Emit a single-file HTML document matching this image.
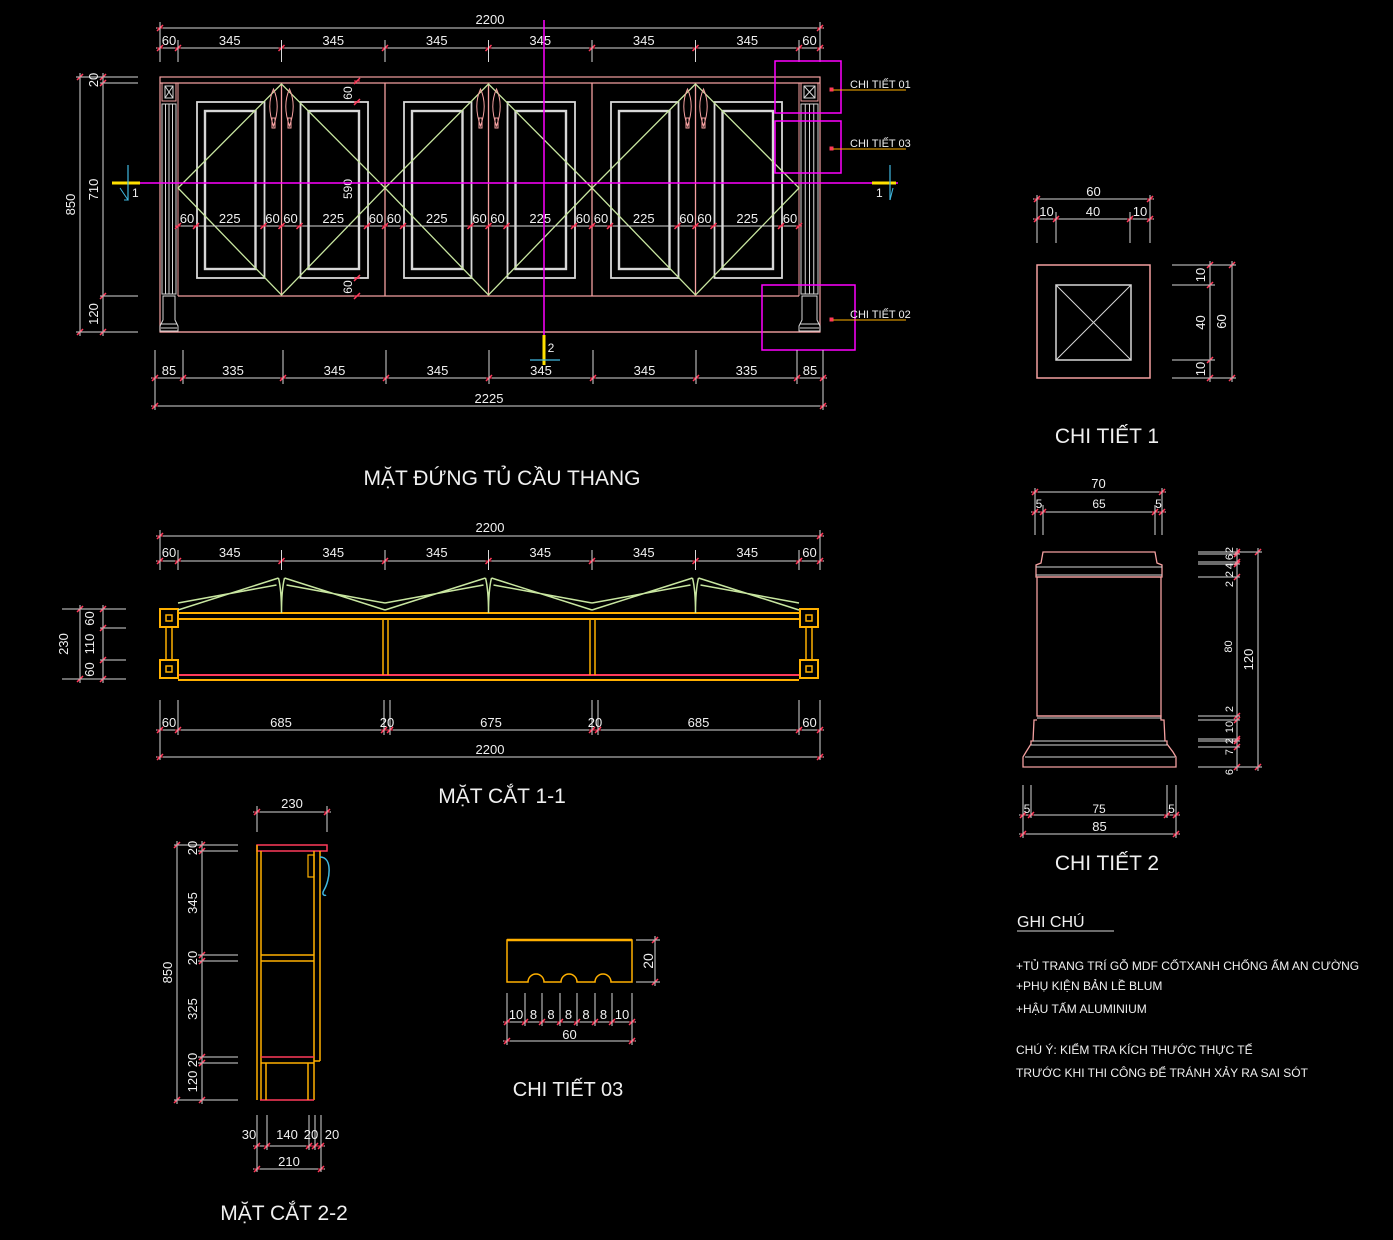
<!DOCTYPE html>
<html><head><meta charset="utf-8"><style>
html,body{margin:0;padding:0;background:#000;}
svg{display:block;}
text{font-family:"Liberation Sans",sans-serif;fill:#f0f0f0;}
</style></head><body>
<svg id="s" width="1393" height="1240" viewBox="0 0 1393 1240" xmlns="http://www.w3.org/2000/svg">
<rect width="1393" height="1240" fill="#000"/>
</svg>
<script>
var S=document.getElementById('s'),NS='http://www.w3.org/2000/svg',out='';
var W='#d8d8d8',RD='#ff3a5a',PK='#f4a0a0',OR='#ffb000',GR='#c8e6a0',MG='#ff00ff',CY='#40b8e0';
function L(a,b,c,d,col,w){out+='<line x1="'+a+'" y1="'+b+'" x2="'+c+'" y2="'+d+'" stroke="'+(col||W)+'" stroke-width="'+(w||1)+'"/>';}
function R(x,y,w,h,col,sw,f){out+='<rect x="'+x+'" y="'+y+'" width="'+w+'" height="'+h+'" fill="'+(f||'none')+'" stroke="'+(col||W)+'" stroke-width="'+(sw||1)+'"/>';}
function P(d,col,w){out+='<path d="'+d+'" fill="none" stroke="'+(col||W)+'" stroke-width="'+(w||1)+'"/>';}
function T(x,y,t,sz,anc,rot,col){out+='<text x="'+x+'" y="'+y+'" font-size="'+(sz||13)+'" text-anchor="'+(anc||'middle')+'"'+(rot?' transform="rotate('+rot+' '+x+' '+y+')"':'')+(col?' style="fill:'+col+'"':'')+'>'+t+'</text>';}
function tk(x,y){L(x-3,y+3,x+3,y-3,RD,1.5);L(x-3,y,x+3,y,RD,1);}
function hdim(xs,y,labels,ty,e1,e2,sz){L(xs[0]-4,y,xs[xs.length-1]+4,y);for(var i=0;i<xs.length;i++){tk(xs[i],y);if(e1!=null)L(xs[i],e1,xs[i],e2);}
 for(var i=0;i<labels.length;i++)if(labels[i]!=='')T((xs[i]+xs[i+1])/2,ty,labels[i],sz||13);}
function vdim(ys,x,labels,tx,e1,e2,sz){L(x,ys[0]-4,x,ys[ys.length-1]+4);for(var i=0;i<ys.length;i++){tk(x,ys[i]);if(e1!=null)L(e1,ys[i],e2,ys[i]);}
 for(var i=0;i<labels.length;i++)if(labels[i]!=='')T(tx,(ys[i]+ys[i+1])/2,labels[i],sz||13,'middle',-90);}

/* ===== FRONT ELEVATION ===== */
var X0=160,X1=820,Y0=77,Y1=332;
var d=[];for(var i=0;i<=6;i++)d.push(178+i*103.5);
hdim([160,820],28,['2200'],24,22,60);
hdim([160,178].concat(d.slice(1,6)).concat([799,820]),48,['60','345','345','345','345','345','345','60'],45,40,62);
R(X0,Y0,660,255,PK,1.2);
L(X0,83,X1,83,PK,1.2);L(178,296,799,296,PK,1.2);L(X0,332,X1,332,PK,1.2);
[[160,178],[799,820]].forEach(function(c){var a=c[0]+2,b=c[1]-2;
 R(a,83,b-a,18,PK);R(a+3,86,b-a-6,12,W);L(a+3,86,b-3,98,W);L(b-3,86,a+3,98,W);
 R(a,104,b-a,190,W);for(var k=1;k<4;k++)L(a+k*(b-a)/4,104,a+k*(b-a)/4,294,W);
 P('M'+(a+1)+' 296 L'+(b-1)+' 296 L'+(b-1)+' 320 L'+(b+2)+' 326 L'+(b+2)+' 331 L'+(a-2)+' 331 L'+(a-2)+' 326 L'+(a+1)+' 320 Z',W);
 L(a-1,324,b+1,324,W);L(a-1,328,b+1,328,W);});
L(178,83,178,296,PK);L(799,83,799,296,PK);
for(var i=0;i<6;i++){var a=d[i],b=d[i+1];
 R(a+19,102,b-a-36,176,W,1.8);R(a+27,111,b-a-53,158,W,2.4);}
for(var i=0;i<3;i++){var a=d[2*i],m=d[2*i+1],b=d[2*i+2];
 L(m,83,m,296,PK,1.3);if(i<2)L(b,83,b,296,PK,1.3);
 P('M'+m+' 84 L'+a+' 188 L'+m+' 295 L'+b+' 188 Z',GR,1.3);
 [m-8,m+8].forEach(function(hx){P('M'+hx+' 89 C'+(hx-5)+' 100 '+(hx-5)+' 112 '+hx+' 126 C'+(hx+5)+' 112 '+(hx+5)+' 100 '+hx+' 89 Z',PK,1);R(hx-1.5,118,3,10,PK);});}
var xs=[];for(var i=0;i<6;i++){xs.push(d[i]);xs.push(d[i]+18);xs.push(d[i+1]-18);}xs.push(799);
L(178,226,799,226,W);xs.forEach(function(x){tk(x,226);});
for(var i=0;i<6;i++){T(d[i]+9,223,'60',13);T((d[i]+d[i+1])/2,223,'225',13);T(d[i+1]-9,223,'60',13);}
T(352,93,'60',12,'middle',-90);T(352,189,'590',12,'middle',-90);T(352,287,'60',12,'middle',-90);
tk(357,81);tk(357,102);tk(357,278);tk(357,296);
L(115,183,898,183,MG,1.5);L(544,20,544,340,MG,1.5);
L(112,183,140,183,'#ffe000',3);L(872,183,896,183,'#ffe000',3);
L(128,165,128,200,CY,1.2);P('M120 188 L128 200 L124 200',CY);T(132,197,'1',12,'start');
L(890,165,890,200,CY,1.2);P('M893 188 L890 200',CY);T(876,197,'1',12,'start');
L(544,335,544,365,'#ffe000',3);L(530,360,560,360,CY,1.2);T(551,352,'2',12,'middle');
R(775,61,66,52,MG,1.5);R(775,121,66,52,MG,1.5);R(762,285,93,65,MG,1.5);
[[82,'CHI TIẾT 01'],[141,'CHI TIẾT 03'],[312,'CHI TIẾT 02']].forEach(function(q){R(830,q[0]+6,3,3,RD,1,RD);L(833,q[0]+8,906,q[0]+8,OR);T(850,q[0]+6,q[1],11,'start');});
vdim([77,332],80,['850'],75,76,138);
vdim([77,83,296,332],103,['20','710','120'],98,100,138);
var bx=[155,183,283,386,489,593,696,797,823];
hdim(bx,378,['85','335','345','345','345','345','335','85'],375,350,384);
hdim([155,823],406,['2225'],403,384,410);
T(502,485,'MẶT ĐỨNG TỦ CẦU THANG',21);

/* ===== SECTION 1-1 ===== */
hdim([160,820],536,['2200'],532,530,566);
hdim([160,178].concat(d.slice(1,6)).concat([799,820]),561,['60','345','345','345','345','345','345','60'],557,550,570);
L(178,613,799,613,OR,2);L(178,619,799,619,OR,2);L(178,675,799,675,RD,2);L(178,680,799,680,OR,2);
[[160,609],[160,660],[800,609],[800,660]].forEach(function(p){R(p[0],p[1],18,18,OR,2);R(p[0]+6,p[1]+6,6,6,OR,1.5);});
L(166,627,166,660,OR,1.5);L(172,627,172,660,OR,1.5);L(806,627,806,660,OR,1.5);L(812,627,812,660,OR,1.5);
[383,388,590,595].forEach(function(x){L(x,619,x,675,OR,1.5);});
for(var i=0;i<3;i++){var a=d[2*i],m=d[2*i+1],b=d[2*i+2];
 P('M'+a+' 610 L'+(m-3)+' 578 M'+a+' 603 L'+(m-5)+' 585',GR,1.5);
 P('M'+(m+3)+' 578 L'+b+' 610 M'+(m+5)+' 585 L'+(b)+' 603',GR,1.5);
 P('M'+(m-3)+' 578 Q'+m+' 590 '+m+' 613 Q'+m+' 590 '+(m+3)+' 578',GR,1.5);}
vdim([609,679],80,['230'],68,62,126);
vdim([609,628,660,679],103,['60','110','60'],94,100,126);
hdim([160,178,384,390,592,598,799,820],730,['60','685','20','675','20','685','60'],727,700,735);
hdim([160,820],757,['2200'],754,735,760);
T(502,803,'MẶT CẮT 1-1',21);

/* ===== SECTION 2-2 ===== */
hdim([257,327],812,['230'],808,806,832);
R(257,845,70,6,RD,1.5);L(257,845,257,1100,OR,1.5);L(261,851,261,1100,OR,1.5);
L(320,851,320,1061,OR,1.5);L(314,851,314,1100,OR,1.5);L(260,1100,314,1100,RD,1.5);
L(261,955,314,955,OR,1.5);L(261,961,314,961,OR,1.5);L(261,1057,314,1057,RD,1.5);L(261,1063,314,1063,OR,1.5);
L(266,1063,266,1100,OR,1.5);L(308,1063,308,1100,OR,1.5);L(314,1061,320,1061,OR,1.5);
R(308,855,6,22,OR,1.2);P('M320 857 C333 857 330 880 324 890 C321 895 325 896 326 895',CY,1.5);
vdim([845,1100],177,['850'],172,174,238);
vdim([845,851,955,961,1057,1063,1100],202,['20','345','20','325','20','120'],197,198,238);
hdim([257,267,309,315,321],1146,['','','',''],1138,1115,1150,13);
T(249,1139,'30',13);T(287,1139,'140',13);T(311,1139,'20',13);T(332,1139,'20',13);
hdim([257,321],1169,['210'],1166,1150,1172);
T(284,1220,'MẶT CẮT 2-2',21);

/* ===== CHI TIET 03 ===== */
P('M507 940 L632 940 L632 982 L611 982 A8 8 0 0 0 595 982 L577 982 A8 8 0 0 0 561 982 L544 982 A8 8 0 0 0 528 982 L507 982 Z',OR,1.5);
L(507,940,632,940,OR,2.5);
vdim([940,982],655,['20'],653,636,660,14);
var cx=[507,525,542,560,577,595,612,632];
hdim(cx,1022,['10','8','8','8','8','8','10'],1019,993,1026,13);
hdim([507,632],1041,['60'],1039,1026,1045);
T(568,1096,'CHI TIẾT 03',20);

/* ===== CHI TIET 1 ===== */
hdim([1037,1150],199,['60'],196,195,243);
hdim([1037,1056,1130,1150],219,['10','40','10'],216,212,243);
R(1037,265,113,113,PK,1.5);R(1056,285,75,75,W,1.5);L(1056,285,1131,360,W);L(1131,285,1056,360,W);
vdim([265,378],1232,['60'],1226,1172,1236);
vdim([265,285,360,378],1210,['10','40','10'],1205,1172,1215);
T(1107,443,'CHI TIẾT 1',21);

/* ===== CHI TIET 2 ===== */
hdim([1035,1162],492,['70'],488,488,535);
hdim([1035,1043,1155,1162],512,['5','65','5'],508,505,535,12);
P('M1043 552 L1155 552 L1157 563 L1162 565 L1162 577 L1036 577 L1036 565 L1041 563 Z',PK,1.3);
L(1036,567,1162,567,W);L(1036,575,1162,575,W);
R(1037,577,124,139,PK,1.3);
P('M1037 716 L1161 716 L1161 720 L1164 720 L1165 741 L1167 741 L1167 744 L1173 752 L1176 757 L1176 767 L1023 767 L1023 757 L1026 752 L1031 744 L1031 741 L1033 741 L1034 720 L1037 720',PK,1.3);
L(1037,718,1161,718,W);L(1033,741,1165,741,W);L(1031,745,1167,745,W);L(1025,757,1175,757,W);
var vy=[552,554,562,564,577,716,720,739,741,747,767];
L(1200,552,1258,552,W);
vdim(vy,1237,['','','','','80','','','','',''],1232,1198,1240,11);
T(1233,550,'2',11,'middle',-90);T(1233,557,'6',11,'middle',-90);T(1233,566,'4',11,'middle',-90);T(1233,574,'2',11,'middle',-90);T(1233,584,'2',11,'middle',-90);
T(1233,709,'2',11,'middle',-90);T(1233,727,'10',11,'middle',-90);T(1233,741,'2',11,'middle',-90);T(1233,752,'7',11,'middle',-90);T(1233,772,'6',11,'middle',-90);
vdim([552,767],1258,['120'],1253,1240,1262);
hdim([1023,1031,1167,1176],815,['5','75','5'],813,785,818,12);
hdim([1023,1176],834,['85'],831,818,838);
T(1107,870,'CHI TIẾT 2',21);

/* ===== NOTES ===== */
T(1017,927,'GHI CHÚ',16,'start');L(1017,931,1114,931,W);
T(1016,970,'+TỦ TRANG TRÍ GỖ MDF CỐTXANH CHỐNG ẨM AN CƯỜNG',12,'start');
T(1016,990,'+PHỤ KIỆN BẢN LỀ BLUM',12,'start');
T(1016,1013,'+HẬU TẤM ALUMINIUM',12,'start');
T(1016,1054,'CHÚ Ý: KIỂM TRA KÍCH THƯỚC THỰC TẾ',12,'start');
T(1016,1077,'TRƯỚC KHI THI CÔNG ĐỂ TRÁNH XẢY RA SAI SÓT',12,'start');
S.insertAdjacentHTML('beforeend',out);
</script>
</body></html>
